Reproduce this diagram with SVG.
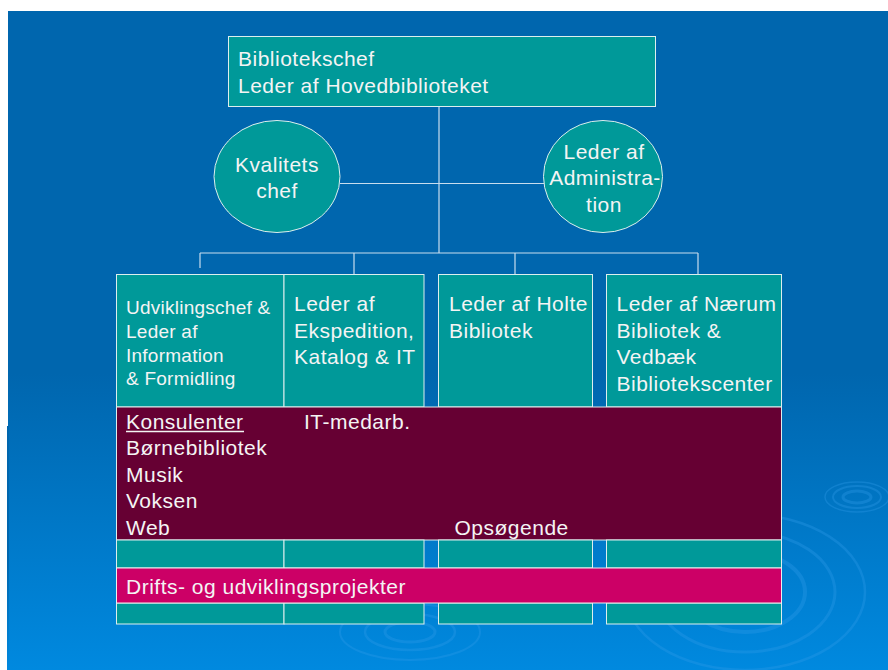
<svg xmlns="http://www.w3.org/2000/svg" width="888" height="670" viewBox="0 0 888 670">
<defs>
<linearGradient id="bg" x1="0" y1="0" x2="0" y2="1">
<stop offset="0" stop-color="#0066AE"/>
<stop offset="0.55" stop-color="#0066AE"/>
<stop offset="1" stop-color="#0089DF"/>
</linearGradient>
<style>
.box{fill:#009999;stroke:#DDEEEE;stroke-width:1}
.ell{fill:#009999;stroke:#DDEEEE;stroke-width:1}
.ln{stroke:#C8DDEE;stroke-width:1.2;fill:none}
.t{font-family:"Liberation Sans",Arial,sans-serif;font-size:21px;letter-spacing:0.5px;fill:#F4F4F4}
.s{font-size:19px;letter-spacing:0.25px}
.rip{fill:none;stroke:#2E9BE8;opacity:0.35}
</style>
</defs>
<rect width="888" height="670" fill="#FFFFFF"/>
<rect x="8" y="11" width="880" height="659" fill="url(#bg)"/>
<rect x="7" y="426" width="2" height="244" fill="url(#bg)"/>
<g id="ripples">
<ellipse class="rip" cx="857" cy="497" rx="14" ry="6" stroke-width="3"/>
<ellipse class="rip" cx="857" cy="497" rx="24" ry="11" stroke-width="2"/>
<ellipse class="rip" cx="857" cy="497" rx="32" ry="15" stroke-width="1.5"/>
<ellipse class="rip" cx="745" cy="592" rx="60" ry="40" stroke-width="4"/>
<ellipse class="rip" cx="745" cy="592" rx="90" ry="60" stroke-width="3"/>
<ellipse class="rip" cx="745" cy="592" rx="120" ry="78" stroke-width="2.5"/>
<ellipse class="rip" cx="410" cy="632" rx="25" ry="10" stroke-width="3"/>
<ellipse class="rip" cx="410" cy="632" rx="45" ry="18" stroke-width="2.5"/>
<ellipse class="rip" cx="410" cy="632" rx="70" ry="28" stroke-width="2"/>
</g>
<g id="connectors">
<line class="ln" x1="439" y1="107" x2="439" y2="253"/>
<line class="ln" x1="340" y1="183.5" x2="544" y2="183.5"/>
<line class="ln" x1="200" y1="253" x2="698" y2="253"/>
<line class="ln" x1="200" y1="253" x2="200" y2="268"/>
<line class="ln" x1="354" y1="253" x2="354" y2="274"/>
<line class="ln" x1="515" y1="253" x2="515" y2="274"/>
<line class="ln" x1="698" y1="253" x2="698" y2="274"/>
</g>
<g id="bibliotekschef">
<rect class="box" x="228.5" y="36.5" width="427" height="70"/>
<text class="t" x="238" y="66">Bibliotekschef</text>
<text class="t" x="238" y="93">Leder af Hovedbiblioteket</text>
</g>
<g id="kvalitetschef">
<ellipse class="ell" cx="277" cy="176.5" rx="63" ry="56"/>
<text class="t" x="277" y="171.5" text-anchor="middle">Kvalitets</text>
<text class="t" x="277" y="198" text-anchor="middle">chef</text>
</g>
<g id="administration">
<ellipse class="ell" cx="603" cy="176.5" rx="59.5" ry="56"/>
<text class="t" x="604" y="158.5" text-anchor="middle">Leder af</text>
<text class="t" x="605" y="185" text-anchor="middle">Administra-</text>
<text class="t" x="604" y="211.5" text-anchor="middle">tion</text>
</g>
<g id="udvikling">
<rect class="box" x="116.5" y="274.5" width="167.5" height="132.5"/>
<text class="t s" x="126" y="314">Udviklingschef &amp;</text>
<text class="t s" x="126" y="338">Leder af</text>
<text class="t s" x="126" y="361.5">Information</text>
<text class="t s" x="126" y="385">&amp; Formidling</text>
</g>
<g id="ekspedition">
<rect class="box" x="284" y="274.5" width="140" height="132.5"/>
<text class="t" x="294" y="310.5">Leder af</text>
<text class="t" x="294" y="338">Ekspedition,</text>
<text class="t" x="294" y="364">Katalog &amp; IT</text>
</g>
<g id="holte">
<rect class="box" x="438.5" y="274.5" width="154" height="132.5"/>
<text class="t" x="449" y="310.5">Leder af Holte</text>
<text class="t" x="449" y="337.5">Bibliotek</text>
</g>
<g id="naerum">
<rect class="box" x="606.5" y="274.5" width="175" height="132.5"/>
<text class="t" x="616.5" y="310.5">Leder af Nærum</text>
<text class="t" x="616.5" y="337.5">Bibliotek &amp;</text>
<text class="t" x="616.5" y="364">Vedbæk</text>
<text class="t" x="616.5" y="390.5">Bibliotekscenter</text>
</g>
<g id="konsulenter">
<rect x="116.5" y="407" width="665" height="133" fill="#660033" stroke="#DDEEEE" stroke-width="1"/>
<text class="t" x="126" y="429">Konsulenter</text>
<line x1="126" y1="431.5" x2="244" y2="431.5" stroke="#F4F4F4" stroke-width="1.3"/>
<text class="t" x="126" y="455">Børnebibliotek</text>
<text class="t" x="126" y="481.5">Musik</text>
<text class="t" x="126" y="508">Voksen</text>
<text class="t" x="126" y="534.5">Web</text>
<text class="t" x="304" y="429">IT-medarb.</text>
<text class="t" x="454.5" y="534.5">Opsøgende</text>
</g>
<g id="row-cells">
<rect class="box" x="116.5" y="540" width="167.5" height="28"/>
<rect class="box" x="284" y="540" width="140" height="28"/>
<rect class="box" x="438.5" y="540" width="154" height="28"/>
<rect class="box" x="606.5" y="540" width="175" height="28"/>
<rect class="box" x="116.5" y="603" width="167.5" height="21"/>
<rect class="box" x="284" y="603" width="140" height="21"/>
<rect class="box" x="438.5" y="603" width="154" height="21"/>
<rect class="box" x="606.5" y="603" width="175" height="21"/>
</g>
<g id="projekter">
<rect x="116.5" y="568" width="665" height="35" fill="#CC0066" stroke="#EEEEEE" stroke-width="1"/>
<text class="t" x="126" y="594">Drifts- og udviklingsprojekter</text>
</g>
</svg>
